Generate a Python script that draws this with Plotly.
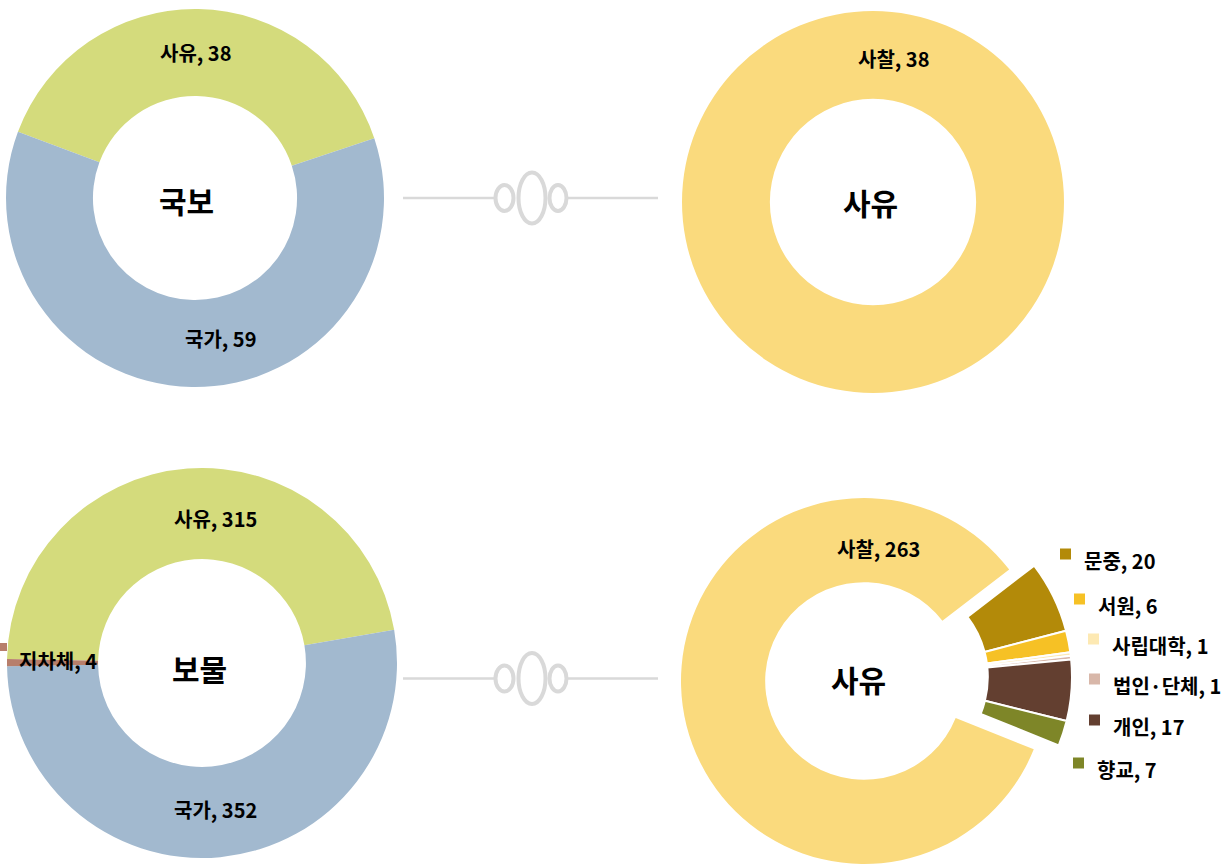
import plotly.graph_objects as go

W, H = 1232, 864

# ---------------- data ----------------
# 국보 소유 구분
gukbo_cats = ["사유", "국가"]
gukbo_vals = [38, 59]
# 국보 사유 세부
gukbo_private_cats = ["사찰"]
gukbo_private_vals = [38]
# 보물 소유 구분
bomul_cats = ["사유", "국가", "지차체"]
bomul_vals = [315, 352, 4]
# 보물 사유 세부
bomul_private_cats = ["사찰", "문중", "서원", "사립대학", "법인·단체", "개인", "향교"]
bomul_private_vals = [263, 20, 6, 1, 1, 17, 7]

center_titles = ["국보", "사유", "보물", "사유"]

# ---------------- styles ----------------
owner_colors = {"사유": "#D4DB7C", "국가": "#A2B9CF", "지차체": "#B77E6B"}
private_colors = {"사찰": "#FADA7D", "문중": "#B38A09", "서원": "#F6C125",
                  "사립대학": "#FDE9B3", "법인·단체": "#D8B7A9", "개인": "#633F30",
                  "향교": "#7E8628"}
TRANSP = "rgba(0,0,0,0)"
FONT = "Noto Sans CJK KR"
GRAY = "#D9D9D9"


def px(x):
    return x / W


def py(y):
    return 1 - y / H


def dom(cx, cy, r):
    return dict(x=[max(0, px(cx - r)), min(1, px(cx + r))],
                y=[max(0, py(cy + r)), min(1, py(cy - r))])


fig = go.Figure()

# 국보
fig.add_trace(go.Pie(labels=gukbo_cats, values=gukbo_vals, sort=False,
                     direction="clockwise", rotation=-69.5, hole=0.54,
                     marker=dict(colors=[owner_colors[c] for c in gukbo_cats]),
                     textinfo="none", domain=dom(195, 198, 189)))
# 국보 사유
fig.add_trace(go.Pie(labels=gukbo_private_cats, values=gukbo_private_vals, sort=False,
                     direction="clockwise", rotation=0, hole=0.54,
                     marker=dict(colors=[private_colors[c] for c in gukbo_private_cats]),
                     textinfo="none", domain=dom(873, 202, 191)))
# 보물
fig.add_trace(go.Pie(labels=bomul_cats, values=bomul_vals, sort=False,
                     direction="clockwise", rotation=-88.8, hole=0.533,
                     marker=dict(colors=[owner_colors[c] for c in bomul_cats]),
                     textinfo="none", domain=dom(202, 663, 195)))

# 보물 사유 : main (사찰) ring and exploded small slices
tot = sum(bomul_private_vals)
small_sum = sum(bomul_private_vals[1:])
start_small = 52.5
rot = start_small + 360 * small_sum / tot
main_cols = [private_colors[c] if c == "사찰" else TRANSP for c in bomul_private_cats]
small_cols = [TRANSP if c == "사찰" else private_colors[c] for c in bomul_private_cats]
small_line = [TRANSP if c == "사찰" else "white" for c in bomul_private_cats]
fig.add_trace(go.Pie(labels=bomul_private_cats, values=bomul_private_vals, sort=False,
                     direction="clockwise", rotation=rot, hole=0.54,
                     marker=dict(colors=main_cols),
                     textinfo="none", domain=dom(864, 681, 183)))
fig.add_trace(go.Pie(labels=bomul_private_cats, values=bomul_private_vals, sort=False,
                     direction="clockwise", rotation=rot, hole=0.54,
                     marker=dict(colors=small_cols, line=dict(color=small_line, width=2)),
                     textinfo="none", domain=dom(889, 677, 183)))

annotations = []
shapes = []


def lab(text, x, y, size=20, xanchor="center"):
    annotations.append(dict(text="<b>%s</b>" % text, x=px(x), y=py(y), xref="paper",
                            yref="paper", showarrow=False, xanchor=xanchor,
                            yanchor="middle", font=dict(family=FONT, size=size,
                                                        color="black")))


# slice labels
lab(f"{gukbo_cats[0]}, {gukbo_vals[0]}", 195, 52)
lab(f"{gukbo_cats[1]}, {gukbo_vals[1]}", 220, 338)
lab(f"{gukbo_private_cats[0]}, {gukbo_private_vals[0]}", 893, 58)
lab(f"{bomul_cats[0]}, {bomul_vals[0]}", 215, 518)
lab(f"{bomul_cats[1]}, {bomul_vals[1]}", 215, 809)
lab(f"{bomul_cats[2]}, {bomul_vals[2]}", 58, 660)
lab(f"{bomul_private_cats[0]}, {bomul_private_vals[0]}", 878, 548)

# center titles
for t, (x, y) in zip(center_titles, [(187, 200), (871, 202), (199, 668), (858, 679)]):
    lab(t, x, y, size=30)

# legend-like labels for small slices
small_pos = [(1084, 560), (1098, 605), (1112, 645), (1113, 685), (1113, 726), (1097, 769)]
for c, v, (x, y) in zip(bomul_private_cats[1:], bomul_private_vals[1:], small_pos):
    lab(f"{c}, {v}", x - 2, y, xanchor="left")
    shapes.append(dict(type="rect", xref="paper", yref="paper",
                       x0=px(x - 24), x1=px(x - 13), y0=py(y - 0.5), y1=py(y - 11.5),
                       fillcolor=private_colors[c], line=dict(width=0)))

# marker square for 지차체 label
shapes.append(dict(type="rect", xref="paper", yref="paper",
                   x0=px(-4), x1=px(7), y0=py(651), y1=py(643),
                   fillcolor=owner_colors["지차체"], line=dict(width=0)))

# connectors (line with three rings)
for cy in [198, 678.5]:
    shapes.append(dict(type="line", xref="paper", yref="paper",
                       x0=px(403), x1=px(494), y0=py(cy), y1=py(cy),
                       line=dict(color=GRAY, width=2.5)))
    shapes.append(dict(type="line", xref="paper", yref="paper",
                       x0=px(568), x1=px(658), y0=py(cy), y1=py(cy),
                       line=dict(color=GRAY, width=2.5)))
    for (xa, xb, h) in [(494, 515, 14.5), (517, 547, 27), (548, 568, 14.5)]:
        shapes.append(dict(type="circle", xref="paper", yref="paper",
                           x0=px(xa + 1.5), x1=px(xb - 1.5),
                           y0=py(cy - h + 1.5), y1=py(cy + h - 1.5),
                           line=dict(color=GRAY, width=4), fillcolor="white"))

fig.update_layout(width=W, height=H, margin=dict(l=0, r=0, t=0, b=0),
                  paper_bgcolor="white", plot_bgcolor="white", showlegend=False,
                  annotations=annotations, shapes=shapes)

fig.write_html("out.html", config={"displayModeBar": False},
               post_script="document.body.style.margin='0';")
